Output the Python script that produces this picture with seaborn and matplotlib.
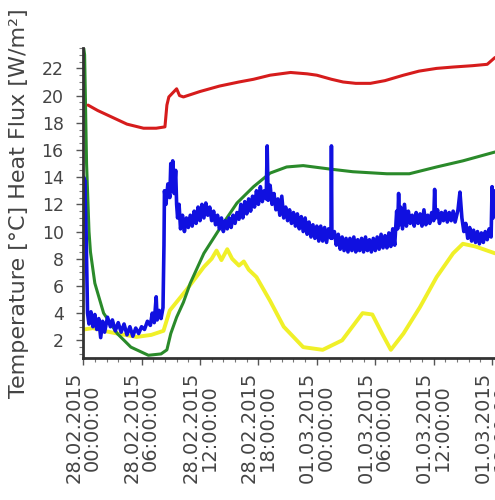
import matplotlib
matplotlib.use("Agg")
import matplotlib.pyplot as plt
import seaborn as sns
import pandas as pd
from matplotlib.ticker import MultipleLocator, FixedLocator, FixedFormatter

# ---- data (hours since 28.02.2015 00:00, value) ----
red_t = [0.5, 1.5, 3.0, 4.5, 6.2, 7.5, 8.4, 8.6, 8.8, 9.6, 9.9, 10.3, 12.0, 14.0, 16.0,
         17.5, 19.2, 21.3, 23.0, 24.0, 25.5, 26.7, 28.0, 29.5, 31.0, 32.9, 34.5, 36.3,
         38.0, 40.0, 41.5, 42.3]
red_v = [19.3, 18.9, 18.4, 17.9, 17.6, 17.6, 17.7, 19.3, 19.9, 20.5, 20.0, 19.9, 20.3,
         20.7, 21.0, 21.2, 21.5, 21.7, 21.6, 21.5, 21.2, 21.0, 20.9, 20.9, 21.1, 21.5,
         21.8, 22.0, 22.1, 22.2, 22.3, 22.8]

green_t = [0.0, 0.15, 0.35, 0.6, 0.75, 1.2, 2.1, 3.5, 4.9, 6.7, 8.0, 8.6, 9.0, 9.6, 10.3,
           11.0, 12.4, 14.1, 15.8, 17.5, 19.2, 20.9, 22.6, 25.3, 27.7, 31.2, 33.5, 36.3,
           39.0, 42.3]
green_v = [23.8, 23.0, 15.0, 10.0, 8.5, 6.2, 4.0, 2.5, 1.5, 0.9, 1.0, 1.3, 2.5, 3.7, 4.8,
           6.2, 8.4, 10.3, 12.1, 13.3, 14.3, 14.75, 14.85, 14.6, 14.4, 14.25, 14.25, 14.75,
           15.2, 15.85]

yellow_t = [0.1, 1.0, 2.1, 3.5, 5.5, 7.0, 8.25, 8.9, 10.6, 12.4, 13.2, 13.7, 14.2, 14.8,
            15.3, 16.0, 16.5, 17.0, 17.8, 19.2, 20.6, 22.6, 24.6, 26.6, 28.7, 29.7, 30.7,
            31.6, 32.9, 34.6, 36.3, 38.0, 39.0, 40.3, 42.3]
yellow_v = [2.8, 2.9, 2.7, 2.5, 2.25, 2.4, 2.7, 4.2, 5.7, 7.4, 8.0, 8.6, 7.9, 8.7, 8.0,
            7.5, 7.8, 7.2, 6.65, 4.9, 3.0, 1.5, 1.3, 2.0, 4.0, 3.9, 2.5, 1.3, 2.5, 4.45,
            6.65, 8.4, 9.1, 8.9, 8.4]

blue_t = [0.0, 0.05, 0.1, 0.15, 0.2, 0.3, 0.45, 0.6, 0.8, 1.0, 1.2, 1.4, 1.6, 1.8, 2.0,
          2.2, 2.5, 2.8, 3.0, 3.3, 3.6, 3.9, 4.2, 4.5, 4.8, 5.1, 5.4, 5.7, 6.0, 6.3, 6.6,
          6.9, 7.1, 7.3, 7.5, 7.6, 7.8, 8.0, 8.2, 8.3, 8.35, 8.5, 8.7, 8.9, 9.0, 9.1, 9.2,
          9.35, 9.5, 9.6, 9.7, 9.85, 10.0, 10.2, 10.4, 10.6, 10.8, 11.0, 11.2, 11.4, 11.6,
          11.8, 12.0, 12.2, 12.4, 12.6, 12.8, 13.0, 13.2, 13.4, 13.6, 13.8, 14.0, 14.2,
          14.4, 14.6, 14.8, 15.0, 15.2, 15.4, 15.6, 15.8, 16.0, 16.2, 16.4, 16.6, 16.8,
          17.0, 17.2, 17.4, 17.6, 17.8, 18.0, 18.2, 18.4, 18.6, 18.8, 18.9, 19.0, 19.2,
          19.4, 19.6, 19.8, 20.0, 20.2, 20.4, 20.6, 20.8, 21.0, 21.2, 21.4, 21.6, 21.8,
          22.0, 22.2, 22.4, 22.6, 22.8, 23.0, 23.2, 23.4, 23.6, 23.8, 24.0, 24.2, 24.4,
          24.6, 24.8, 25.0, 25.2, 25.45, 25.5, 25.55, 25.8, 26.0, 26.2, 26.4, 26.6, 26.8,
          27.0, 27.2, 27.4, 27.6, 27.8, 28.0, 28.2, 28.4, 28.6, 28.8, 29.0, 29.2, 29.4,
          29.6, 29.8, 30.0, 30.2, 30.4, 30.6, 30.8, 31.0, 31.2, 31.4, 31.6, 31.8, 32.0,
          32.2, 32.3, 32.4, 32.5, 32.6, 32.8, 33.0, 33.2, 33.4, 33.6, 33.8, 34.0, 34.2,
          34.4, 34.6, 34.8, 35.0, 35.2, 35.4, 35.6, 35.8, 36.0, 36.1, 36.2, 36.4, 36.6,
          36.8, 37.0, 37.2, 37.4, 37.6, 37.8, 38.0, 38.2, 38.5, 38.7, 38.9, 39.1, 39.3,
          39.5, 39.7, 39.9, 40.1, 40.3, 40.5, 40.7, 40.9, 41.1, 41.3, 41.5, 41.7, 41.9,
          42.0, 42.1, 42.3]
blue_v = [13.0, 14.0, 12.3, 13.8, 12.5, 10.0, 4.0, 3.2, 4.1, 3.0, 3.9, 2.8, 3.6, 2.2, 3.4,
          2.6, 3.7, 3.0, 3.5, 2.7, 3.3, 2.6, 3.2, 2.4, 3.0, 2.3, 2.9, 2.5, 3.0, 2.8, 3.4,
          3.1, 4.0, 3.3, 5.2, 3.5, 4.2, 3.6, 4.4, 9.0, 13.0, 12.0, 13.5, 12.5, 15.0, 13.0,
          15.2, 12.8, 14.5, 12.0, 11.0, 12.0, 10.2, 11.2, 10.0, 11.0, 10.3, 11.2, 10.4,
          11.5, 10.6, 11.8, 10.8, 12.0, 11.0, 12.1, 11.2, 11.8, 10.8, 11.5, 10.5, 11.2,
          10.2, 11.0, 10.0, 10.8, 10.2, 11.0, 10.3, 11.2, 10.6, 11.4, 10.9, 12.0, 11.0,
          12.2, 11.3, 12.4, 11.5, 12.6, 11.8, 13.0, 12.0, 13.3, 12.2, 13.0, 12.4, 16.3,
          12.3, 13.4, 12.0, 12.8, 11.6, 12.4, 11.2, 12.6, 11.0, 11.8, 10.8, 11.6, 10.6,
          11.4, 10.4, 11.3, 10.2, 11.1, 10.0, 11.0, 9.8, 10.7, 9.6, 10.5, 9.5, 10.4, 9.3,
          10.4, 9.3, 10.3, 9.2, 10.2, 9.5, 16.3, 9.5, 10.0, 9.0, 9.8, 8.7, 9.6, 8.6, 9.5,
          8.5, 9.5, 8.6, 9.6, 8.5, 9.4, 8.6, 9.5, 8.5, 9.6, 8.6, 9.4, 8.5, 9.5, 8.6, 9.6,
          8.7, 9.8, 8.8, 9.7, 8.8, 9.9, 8.9, 10.2, 9.0, 11.5, 10.2, 12.8, 10.5, 11.8,
          10.2, 12.0, 10.4, 11.5, 10.6, 11.2, 10.4, 11.4, 10.6, 11.3, 10.4, 11.6, 10.5,
          11.2, 10.6, 11.4, 10.8, 13.1, 11.0, 11.6, 10.6, 11.4, 10.8, 11.5, 10.7, 11.4,
          10.8, 11.5, 10.7, 11.6, 12.9, 11.0, 10.0, 10.6, 9.5, 10.3, 9.3, 10.1, 9.2, 10.0,
          9.1, 9.9, 9.2, 10.0, 9.4, 10.2, 9.6, 13.3, 11.0, 13.0]

tick_hours = [0, 6, 12, 18, 24, 30, 36, 42]
tick_labels = ["28.02.2015\n00:00:00", "28.02.2015\n06:00:00", "28.02.2015\n12:00:00",
               "28.02.2015\n18:00:00", "01.03.2015\n00:00:00", "01.03.2015\n06:00:00",
               "01.03.2015\n12:00:00", "01.03.2015\n18:00:00"]
y_ticks = [2, 4, 6, 8, 10, 12, 14, 16, 18, 20, 22]

# ---- style ----
sns.set_style("ticks")
plt.rcParams['font.family'] = ['DejaVu Sans']

fig = plt.figure(figsize=(4.95, 5.0), dpi=100)
ax = fig.add_axes([0.168, 0.284, 0.832, 0.620])

series = [
    (yellow_t, yellow_v, "#f0f028", 2.8),
    (green_t, green_v, "#2a8a2a", 2.2),
    (blue_t, blue_v, "#1010e0", 2.6),
    (red_t, red_v, "#d61c1c", 2.2),
]
for t, v, c, lw in series:
    df = pd.DataFrame({"t": t, "v": v})
    sns.lineplot(data=df, x="t", y="v", ax=ax, color=c, linewidth=lw,
                 sort=False, estimator=None, clip_on=True)

ax.set_xlim(0, 42.3)
ax.set_ylim(0.7, 23.5)
ax.xaxis.set_major_locator(FixedLocator(tick_hours))
ax.xaxis.set_major_formatter(FixedFormatter(tick_labels))
ax.xaxis.set_minor_locator(MultipleLocator(1.2))
ax.yaxis.set_major_locator(FixedLocator(y_ticks))
ax.yaxis.set_minor_locator(MultipleLocator(0.5))

for lab in ax.get_xticklabels():
    lab.set_rotation(90)
    lab.set_ha("center")
    lab.set_va("top")
    lab.set_multialignment("center")
    lab.set_linespacing(0.95)
    lab.set_fontsize(14)
    lab.set_color("#444444")

ax.tick_params(axis="y", which="major", labelsize=12.5, labelcolor="#444444",
               length=5, width=1, color="#555555", pad=9)
ax.tick_params(axis="x", which="major", length=5, width=1, color="#555555", pad=5)
ax.tick_params(which="minor", length=3, width=0.8, color="#777777")

ax.set_xlabel("")
ax.set_ylabel("Temperature [°C] Heat Flux [W/m²]", fontsize=16, color="#444444", labelpad=9)

sns.despine(ax=ax, top=True, right=True)
for s in ["left", "bottom"]:
    ax.spines[s].set_linewidth(2)
    ax.spines[s].set_color("#333333")

fig.savefig("out.png", dpi=100)
